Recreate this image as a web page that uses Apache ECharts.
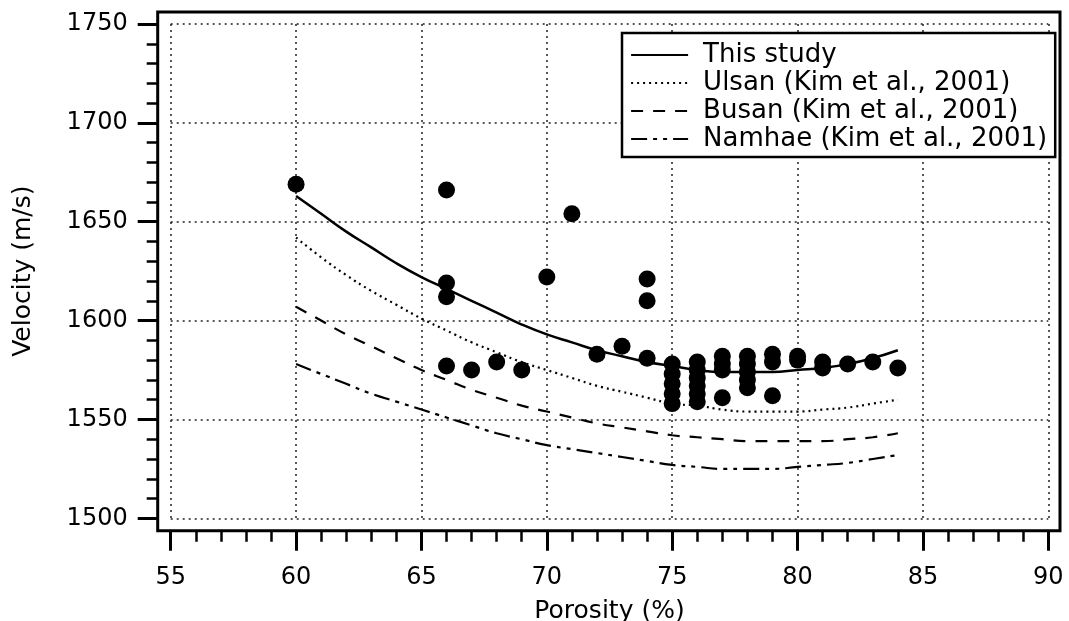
<!DOCTYPE html>
<html>
<head>
<meta charset="utf-8">
<script src="https://cdn.jsdelivr.net/npm/echarts@6/dist/echarts.min.js"></script>
<style>html,body{margin:0;padding:0;background:#fff;}#c{width:1069px;height:621px;}</style>
</head>
<body>
<div id="c"></div>
<script>
// ---- data ----
const scatterX = [60, 66, 66, 66, 66, 67, 68, 69, 70, 71, 72, 73, 74, 74, 74,
  75, 75, 75, 75, 75, 76, 76, 76, 76, 76, 76, 77, 77, 77, 77,
  78, 78, 78, 78, 78, 79, 79, 79, 80, 80, 81, 81, 82, 83, 84];
const scatterY = [1669, 1666, 1619, 1612, 1577, 1575, 1579, 1575, 1622, 1654, 1583, 1587, 1621, 1610, 1581,
  1578, 1573, 1568, 1563, 1558, 1579, 1575, 1571, 1567, 1563, 1559, 1582, 1578, 1575, 1561,
  1582, 1578, 1574, 1570, 1566, 1583, 1579, 1562, 1582, 1580, 1579, 1576, 1578, 1579, 1576];

const curveX = [60, 61, 62, 63, 64, 65, 66, 67, 68, 69, 70, 71, 72, 73, 74, 75, 76, 77, 78, 79, 80, 81, 82, 83, 84];
const thisStudy = [1663, 1654, 1645, 1637, 1629, 1622, 1616, 1610, 1604, 1598, 1593, 1589, 1585, 1582, 1579, 1577, 1575, 1574, 1574, 1574, 1575, 1576, 1578, 1581, 1585];
const ulsan     = [1642, 1632, 1623, 1615, 1608, 1601, 1595, 1589, 1584, 1579, 1575, 1571, 1567, 1564, 1561, 1558, 1557, 1555, 1554, 1554, 1554, 1555, 1556, 1558, 1560];
const busan     = [1607, 1600, 1593, 1587, 1581, 1575, 1570, 1565, 1561, 1557, 1554, 1551, 1548, 1546, 1544, 1542, 1541, 1540, 1539, 1539, 1539, 1539, 1540, 1541, 1543];
const namhae    = [1578, 1573, 1568, 1563, 1559, 1555, 1551, 1547, 1543, 1540, 1537, 1535, 1533, 1531, 1529, 1527, 1526, 1525, 1525, 1525, 1526, 1527, 1528, 1530, 1532];

const seriesNames = ['This study', 'Ulsan (Kim et al., 2001)', 'Busan (Kim et al., 2001)', 'Namhae (Kim et al., 2001)'];
const xTitle = 'Porosity (%)';
const yTitle = 'Velocity (m/s)';

// ---- build chart ----
const pair = (xs, ys) => xs.map((x, i) => [x, ys[i]]);
const FONT = 'DejaVu Sans';
const chart = echarts.init(document.getElementById('c'), null, {renderer: 'canvas'});

const lineSeries = (name, ys, type, width) => ({
  name, type: 'line', data: pair(curveX, ys), showSymbol: false, symbol: 'none',
  smooth: true, silent: true,
  lineStyle: {color: '#000', width: width, type: type},
  itemStyle: {color: '#000'}, z: 3
});

chart.setOption({
  animation: false,
  backgroundColor: '#fff',
  grid: {left: 170.7, right: 20.7, top: 24, bottom: 102.7, containLabel: false, outerBoundsMode: 'none'},
  xAxis: {
    type: 'value', min: 55, max: 90, interval: 5, offset: 12.4,
    name: xTitle, nameLocation: 'middle', nameGap: 68,
    nameTextStyle: {fontFamily: FONT, fontSize: 25, color: '#000'},
    axisLine: {show: false},
    axisTick: {show: true, length: 20, lineStyle: {color: '#000', width: 3}},
    minorTick: {show: true, splitNumber: 5, length: 11, lineStyle: {color: '#000', width: 2.5}},
    axisLabel: {fontFamily: FONT, fontSize: 24, color: '#000', margin: 35},
    splitLine: {show: true, lineStyle: {color: '#222', width: 1.5, type: [2, 4]}}
  },
  yAxis: {
    type: 'value', min: 1500, max: 1750, interval: 50, offset: 13,
    name: yTitle, nameLocation: 'middle', nameGap: 122,
    nameTextStyle: {fontFamily: FONT, fontSize: 25, color: '#000'},
    axisLine: {show: false},
    axisTick: {show: true, length: 20, lineStyle: {color: '#000', width: 3}},
    minorTick: {show: true, splitNumber: 5, length: 11, lineStyle: {color: '#000', width: 2.5}},
    axisLabel: {fontFamily: FONT, fontSize: 24, color: '#000', margin: 30, formatter: v => String(v)},
    splitLine: {show: true, lineStyle: {color: '#222', width: 1.5, type: [2, 4]}}
  },
  legend: {
    data: seriesNames,
    orient: 'vertical', left: 622, top: 33,
    backgroundColor: '#fff', borderColor: '#000', borderWidth: 2.5, borderRadius: 0,
    padding: [9, 8, 5, 8],
    itemWidth: 57, itemHeight: 14, itemGap: 2,
    itemStyle: {opacity: 0},
    lineStyle: {width: 2.2},
    textStyle: {fontFamily: FONT, fontSize: 26, color: '#000', padding: [0, 0, 0, 10]},
    selectedMode: false
  },
  graphic: [{
    type: 'rect', silent: true, z: 10,
    shape: {x: 157.7, y: 12, width: 902.3, height: 518.7},
    style: {fill: 'none', stroke: '#000', lineWidth: 3}
  }],
  series: [
    lineSeries(seriesNames[0], thisStudy, 'solid', 2.5),
    lineSeries(seriesNames[1], ulsan, [2, 4], 2.2),
    lineSeries(seriesNames[2], busan, [12, 10], 2.2),
    lineSeries(seriesNames[3], namhae, [16, 6, 4, 6, 4, 6], 2.2),
    {
      name: 'data', type: 'scatter', data: pair(scatterX, scatterY),
      symbol: 'circle', symbolSize: 17, itemStyle: {color: '#000', opacity: 1}, z: 4, silent: true
    }
  ]
});
</script>
</body>
</html>
